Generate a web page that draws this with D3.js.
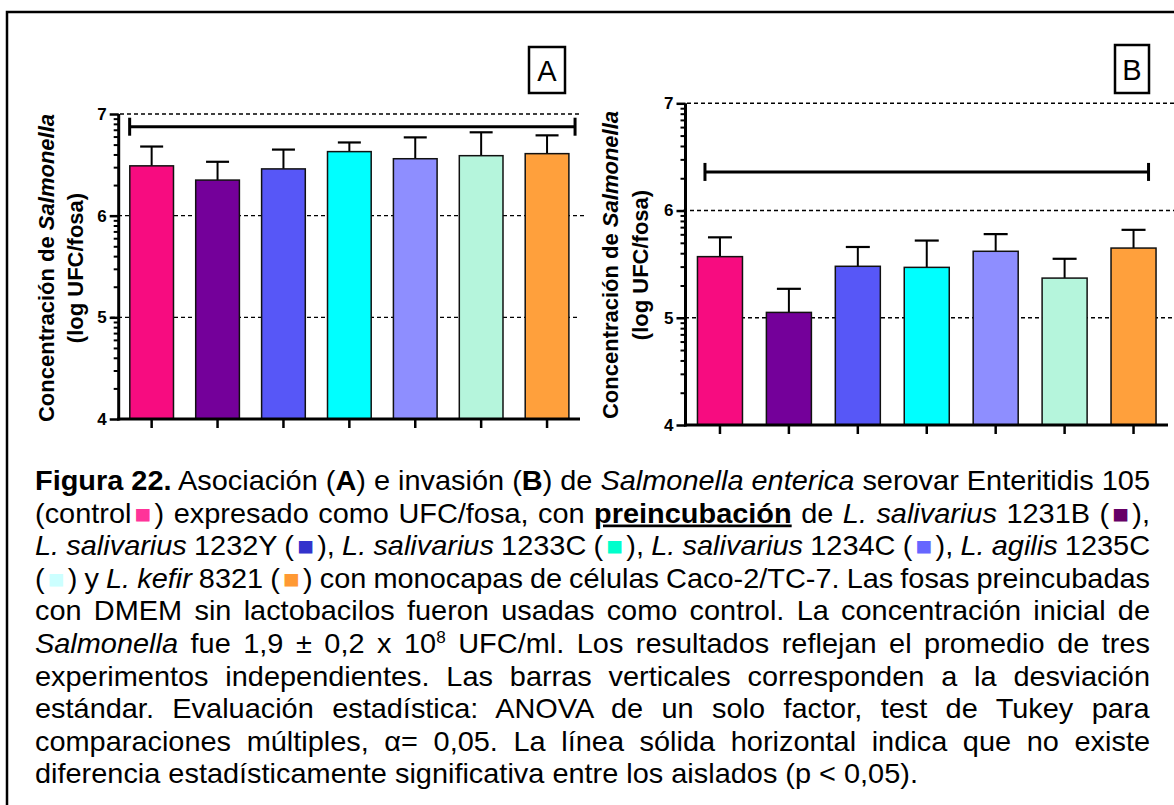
<!DOCTYPE html>
<html>
<head>
<meta charset="utf-8">
<script src="https://cdn.jsdelivr.net/npm/d3@7"></script>
<style>
  body { margin: 0; background: #fff; }
  svg { display: block; }
  text { font-family: "Liberation Sans", Arial, sans-serif; }
</style>
</head>
<body>
<svg id="fig" width="1174" height="805"></svg>
<script>
// Strains tested (first bar = control without lactobacilli)
const strains = ["Control", "L. salivarius 1231B", "L. salivarius 1232Y", "L. salivarius 1233C",
                 "L. salivarius 1234C", "L. agilis 1235C", "L. kefir 8321"];

// Panel A: association (log UFC/fosa), mean and standard deviation
const associationMean = [6.49, 6.35, 6.46, 6.63, 6.56, 6.59, 6.61];
const associationSD   = [0.19, 0.18, 0.19, 0.09, 0.21, 0.23, 0.18];

// Panel B: invasion (log UFC/fosa), mean and standard deviation
const invasionMean = [5.57, 5.05, 5.48, 5.47, 5.62, 5.37, 5.65];
const invasionSD   = [0.18, 0.22, 0.18, 0.25, 0.16, 0.18, 0.17];

// Height of the "no significant difference" bar in each panel
const noDiffLevel = [6.875, 6.36];

// Axis ticks and reference lines
const yDomain = [4, 7];
const yTicks = [4, 5, 6, 7];
const refLines = [5, 6, 7];

const barColors    = ["#f70c80", "#74009a", "#5757f7", "#00ffff", "#8e8eff", "#b5f5dc", "#ffa03c"];
const swatchColors = ["#ff3399", "#660066", "#3333cc", "#00ffcc", "#6666ff", "#ccffff", "#ff9933"];

const svg = d3.select("#fig");
svg.append("rect").attr("width", 1174).attr("height", 805).attr("fill", "#fff");

// Outer frame (top and left edges visible)
svg.append("path")
  .attr("d", "M7,805 V12 H1174")
  .attr("fill", "none").attr("stroke", "#000").attr("stroke-width", 2.5);

function drawPanel(cfg) {
  const g = svg.append("g");
  const x = d3.scaleBand().domain(strains).range([cfg.left, cfg.right])
    .paddingInner(cfg.pad).paddingOuter(cfg.pad / 2);
  const y = d3.scaleLinear().domain(yDomain).range([cfg.bottom, cfg.top]);

  // dashed reference lines
  g.selectAll("line.ref").data(refLines).join("line")
    .attr("class", "ref")
    .attr("x1", d => cfg.refStart[d]).attr("x2", d => cfg.refEnd[d])
    .attr("y1", d => y(d)).attr("y2", d => y(d))
    .attr("stroke", "#000").attr("stroke-width", 1.4).attr("stroke-dasharray", "4,3");

  const rows = strains.map((s, i) => ({ s, m: cfg.mean[i], sd: cfg.sd[i], c: barColors[i] }));

  // error bars (upper whisker only)
  const eb = g.selectAll("g.err").data(rows).join("g").attr("class", "err");
  eb.append("line")
    .attr("x1", d => x(d.s) + x.bandwidth() / 2).attr("x2", d => x(d.s) + x.bandwidth() / 2)
    .attr("y1", d => y(d.m)).attr("y2", d => y(d.m + d.sd))
    .attr("stroke", "#000").attr("stroke-width", 2);
  eb.append("line")
    .attr("x1", d => x(d.s) + x.bandwidth() / 2 - cfg.cap / 2)
    .attr("x2", d => x(d.s) + x.bandwidth() / 2 + cfg.cap / 2)
    .attr("y1", d => y(d.m + d.sd)).attr("y2", d => y(d.m + d.sd))
    .attr("stroke", "#000").attr("stroke-width", 2.2);

  // bars
  g.selectAll("rect.bar").data(rows).join("rect")
    .attr("class", "bar")
    .attr("x", d => x(d.s)).attr("width", x.bandwidth())
    .attr("y", d => y(d.m)).attr("height", d => y(yDomain[0]) - y(d.m))
    .attr("fill", d => d.c).attr("stroke", "#111").attr("stroke-width", 1.5);

  // minor ticks at log positions within each decade
  const minor = [];
  for (let k = yDomain[0]; k < yDomain[1]; k++)
    for (let m = 2; m <= 9; m++) minor.push(k + Math.log10(m));
  g.append("g").attr("transform", `translate(${cfg.left},0)`)
    .call(d3.axisLeft(y).tickValues(minor).tickSize(5).tickFormat(""))
    .call(a => a.select(".domain").remove())
    .call(a => a.selectAll("line").attr("stroke-width", 2));

  // y axis
  const ya = g.append("g").attr("transform", `translate(${cfg.left},0)`)
    .call(d3.axisLeft(y).tickValues(yTicks).tickSize(9).tickPadding(3).tickFormat(d3.format("d")));
  ya.select(".domain").attr("stroke-width", 3).attr("d", `M0,${cfg.top}V${cfg.bottom + 1.5}`);
  ya.selectAll("line").attr("stroke-width", 2.5);
  ya.selectAll("text").attr("font-size", 17).attr("font-weight", "bold")
    .attr("font-family", "'Liberation Sans', Arial, sans-serif").attr("fill", "#000");

  // x axis (ticks only, no labels)
  const xa = g.append("g").attr("transform", `translate(0,${cfg.bottom})`)
    .call(d3.axisBottom(x).tickSize(9).tickFormat(""));
  xa.select(".domain").attr("stroke-width", 3).attr("d", `M${cfg.left - 1.5},0H${cfg.right}`);
  xa.selectAll("line").attr("stroke-width", 2.5);

  // "no significant difference" bar
  const sy = y(cfg.noDiff);
  const sx1 = x(strains[0]) + x.bandwidth() / 2 + cfg.sigOff[0];
  const sx2 = x(strains[strains.length - 1]) + x.bandwidth() / 2 + cfg.sigOff[1];
  const sig = g.append("g").attr("stroke", "#000").attr("stroke-width", 3);
  sig.append("line").attr("x1", sx1).attr("x2", sx2).attr("y1", sy).attr("y2", sy);
  sig.append("line").attr("x1", sx1).attr("x2", sx1).attr("y1", sy - 9).attr("y2", sy + 9);
  sig.append("line").attr("x1", sx2).attr("x2", sx2).attr("y1", sy - 9).attr("y2", sy + 9);

  // y-axis title
  const midY = cfg.labelMid;
  const t1 = g.append("text").attr("transform", `translate(${cfg.label1},${midY}) rotate(-90)`)
    .attr("text-anchor", "middle").attr("font-size", 22).attr("font-weight", "bold");
  t1.append("tspan").text("Concentración de ");
  t1.append("tspan").attr("font-style", "italic").text("Salmonella");
  g.append("text").attr("transform", `translate(${cfg.label2},${midY}) rotate(-90)`)
    .attr("text-anchor", "middle").attr("font-size", 22).attr("font-weight", "bold")
    .text("(log UFC/fosa)");

  // panel letter in a box
  const b = cfg.box;
  g.append("rect").attr("x", b[0]).attr("y", b[1]).attr("width", b[2]).attr("height", b[3])
    .attr("fill", "#fff").attr("stroke", "#000").attr("stroke-width", 2.5);
  g.append("text").attr("x", b[0] + b[2] / 2).attr("y", b[1] + b[3] / 2 + 10.5)
    .attr("text-anchor", "middle").attr("font-size", 29).text(cfg.letter);
}

drawPanel({
  left: 118.7, right: 580, top: 114, bottom: 419, pad: 0.337, cap: 23,
  mean: associationMean, sd: associationSD, noDiff: noDiffLevel[0], sigOff: [-22, 28],
  refStart: { 5: 111, 6: 111, 7: 120 }, refEnd: { 5: 580, 6: 586, 7: 580 },
  label1: 54, label2: 83, labelMid: 268, box: [529, 47, 36, 46], letter: "A"
});
drawPanel({
  left: 685.5, right: 1168, top: 103.3, bottom: 425, pad: 0.347, cap: 24,
  mean: invasionMean, sd: invasionSD, noDiff: noDiffLevel[1], sigOff: [-15, 15],
  refStart: { 5: 678, 6: 683, 7: 687 }, refEnd: { 5: 1174, 6: 1174, 7: 1174 },
  label1: 618, label2: 648, labelMid: 265, box: [1115, 45, 34, 48], letter: "B"
});

// Caption, justified line by line
const SQ = "\u25A0";
const captionLines = [
  [["Figura 22.", "b"], [" Asociación ("], ["A", "b"], [") e invasión ("], ["B", "b"], [") de "],
   ["Salmonella enterica", "i"], [" serovar Enteritidis 105"]],
  [["(control"], [SQ, "sq", 0], [") expresado como UFC/fosa, con "], ["preincubación", "bu"],
   [" de "], ["L. salivarius", "i"], [" 1231B ("], [SQ, "sq", 1], ["),"]],
  [["L. salivarius", "i"], [" 1232Y ("], [SQ, "sq", 2], ["), "], ["L. salivarius", "i"],
   [" 1233C ("], [SQ, "sq", 3], ["), "], ["L. salivarius", "i"], [" 1234C ("],
   [SQ, "sq", 4], ["), "], ["L. agilis", "i"], [" 1235C"]],
  [["("], [SQ, "sq", 5], [") y "], ["L. kefir", "i"], [" 8321 ("], [SQ, "sq", 6],
   [") con monocapas de células Caco-2/TC-7. Las fosas preincubadas"]],
  [["con DMEM sin lactobacilos fueron usadas como control. La concentración inicial de"]],
  [["Salmonella", "i"], [" fue 1,9 ± 0,2 x 10"], ["8", "sup"], [" UFC/ml. Los resultados reflejan el promedio de tres"]],
  [["experimentos independientes. Las barras verticales corresponden a la desviación"]],
  [["estándar. Evaluación estadística: ANOVA de un solo factor, test de Tukey para"]],
  [["comparaciones múltiples, α= 0,05. La línea sólida horizontal indica que no existe"]],
  [["diferencia estadísticamente significativa entre los aislados (p < 0,05)."]]
];

const capLeft = 35, capRight = 1150, capTop = 490, capStep = 32.6, capSize = 27, lastEnd = 918;
const cap = svg.append("g").attr("font-size", capSize).attr("fill", "#000");
const capTexts = captionLines.map((parts, li) => {
  const t = cap.append("text").attr("x", 0).attr("y", 0);
  let afterSup = false, afterSq = false;
  parts.forEach(([str, st, ci]) => {
    const ts = t.append("tspan").text(str);
    if (afterSup) { ts.attr("dy", 10); afterSup = false; }
    if (afterSq) { ts.attr("dx", 3); afterSq = false; }
    if (st === "b") ts.attr("font-weight", "bold");
    if (st === "i") ts.attr("font-style", "italic");
    if (st === "bu") ts.attr("font-weight", "bold").attr("text-decoration", "underline");
    if (st === "sq") { ts.attr("fill", swatchColors[ci]).attr("font-size", 26).attr("dx", 3); afterSq = true; }
    if (st === "sup") { ts.attr("font-size", 16).attr("dy", -10); afterSup = true; }
  });
  return t;
});
// horizontal scale chosen so the last (unjustified) line ends where it should
const sx = (lastEnd - capLeft) / capTexts[capTexts.length - 1].node().getComputedTextLength();
capTexts.forEach((t, li) => {
  t.attr("transform", `translate(${capLeft},${capTop + li * capStep}) scale(${sx},1)`);
  if (li < capTexts.length - 1) {
    const target = (capRight - capLeft) / sx;
    const bbox = t.node().getBBox();
    const natural = bbox.x + bbox.width;
    const spaces = (t.text().match(/ /g) || []).length;
    if (spaces > 0) t.attr("word-spacing", (target - natural) / spaces);
  }
});
</script>
</body>
</html>
